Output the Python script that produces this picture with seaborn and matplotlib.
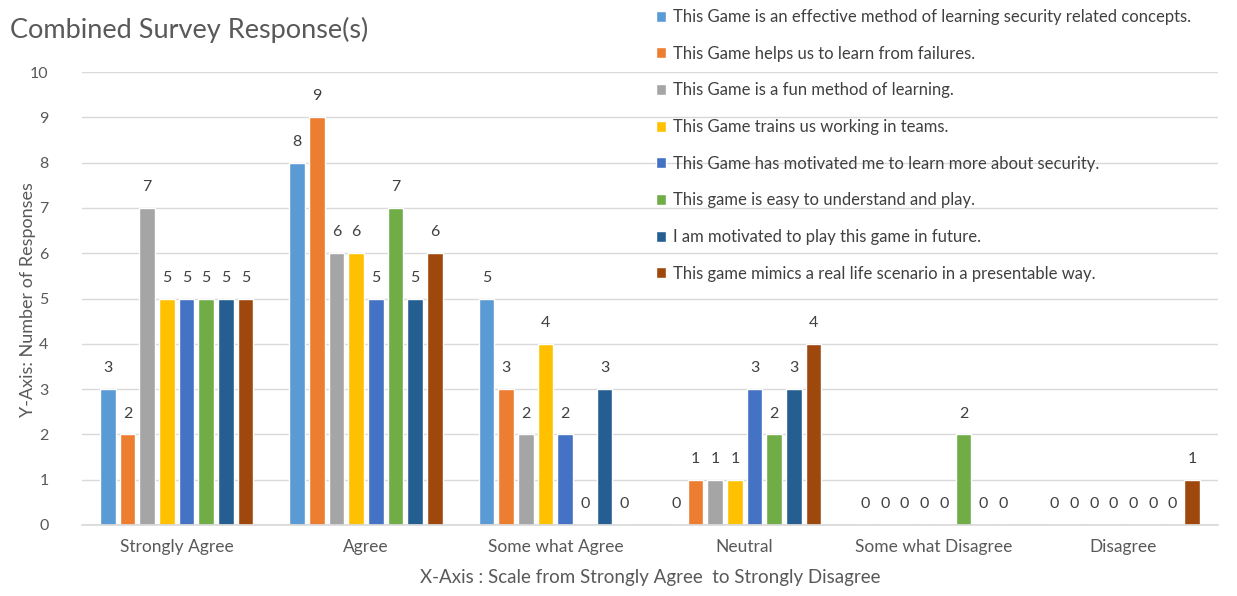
import pandas as pd
import seaborn as sns
import matplotlib
matplotlib.use('Agg')
from matplotlib import pyplot as plt

categories = ['Strongly Agree', 'Agree', 'Some what Agree', 'Neutral',
              'Some what Disagree', 'Disagree']
statements = [
    'This Game is an effective method of learning security related concepts.',
    'This Game helps us to learn from failures.',
    'This Game is a fun method of learning.',
    'This Game trains us working in teams.',
    'This Game has motivated me to learn more about security.',
    'This game is easy to understand and play.',
    'I am motivated to play this game in future.',
    'This game mimics a real life scenario in a presentable way.',
]
# responses per statement, in category order
effective = [3, 8, 5, 0, 0, 0]
failures = [2, 9, 3, 1, 0, 0]
fun = [7, 6, 2, 1, 0, 0]
teams = [5, 6, 4, 1, 0, 0]
motivated_security = [5, 5, 2, 3, 0, 0]
easy = [5, 7, 0, 2, 2, 0]
future = [5, 5, 3, 3, 0, 0]
real_life = [5, 6, 0, 4, 0, 1]

colors = ['#5B9BD5', '#ED7D31', '#A5A5A5', '#FFC000',
          '#4472C4', '#70AD47', '#255E91', '#9E480E']

series = [effective, failures, fun, teams, motivated_security, easy, future, real_life]
rows = []
for stmt, vals in zip(statements, series):
    for cat, v in zip(categories, vals):
        rows.append({'category': cat, 'statement': stmt, 'count': v})
df = pd.DataFrame(rows)

sns.set_theme(style='white')
plt.rcParams['font.family'] = ['Lato', 'DejaVu Sans']

W, H = 1237, 596
fig = plt.figure(figsize=(W / 100, H / 100), dpi=100)
ax = fig.add_axes([82 / W, (H - 525) / H, (1218 - 82) / W, (525 - 72) / H])

sns.barplot(data=df, x='category', y='count', hue='statement', order=categories,
            hue_order=statements, palette=colors, width=0.83, gap=0.2,
            saturation=1, ax=ax, legend=True)

txt = '#404040'
for c in ax.containers:
    ax.bar_label(c, fmt='%d', padding=10, fontsize=11.5, color=txt)

ax.set_ylim(0, 10)
ax.set_xlim(-0.5, 5.5)
ax.set_yticks(range(0, 11))
ax.yaxis.grid(True, color='#D9D9D9', linewidth=1)
ax.set_axisbelow(True)
for s in ['top', 'right', 'left']:
    ax.spines[s].set_visible(False)
ax.spines['bottom'].set_color('#D9D9D9')
ax.tick_params(axis='y', length=0, pad=24, labelsize=11.5, labelcolor='#595959')
ax.tick_params(axis='x', length=0, pad=10, labelsize=12.5, labelcolor='#595959')
ax.set_xlabel('X-Axis : Scale from Strongly Agree  to Strongly Disagree',
              fontsize=13.5, color='#595959', labelpad=10)
ax.set_ylabel('')
fig.text(28 / W, 1 - 300 / H, 'Y-Axis: Number of Responses', rotation=90,
         fontsize=13, color='#595959', ha='center', va='center')

fig.text(10 / W, 1 - 30 / H, 'Combined Survey Response(s)', fontsize=19.5,
         color='#595959', va='center', ha='left')

leg = ax.legend(loc='upper left', bbox_to_anchor=(641 / W, 1 + 6 / H),
                bbox_transform=fig.transFigure, frameon=False, fontsize=12,
                handlelength=0.62, handleheight=0.62, handletextpad=0.4,
                labelspacing=1.24, labelcolor='#404040')

fig.savefig('out.png', dpi=100)
